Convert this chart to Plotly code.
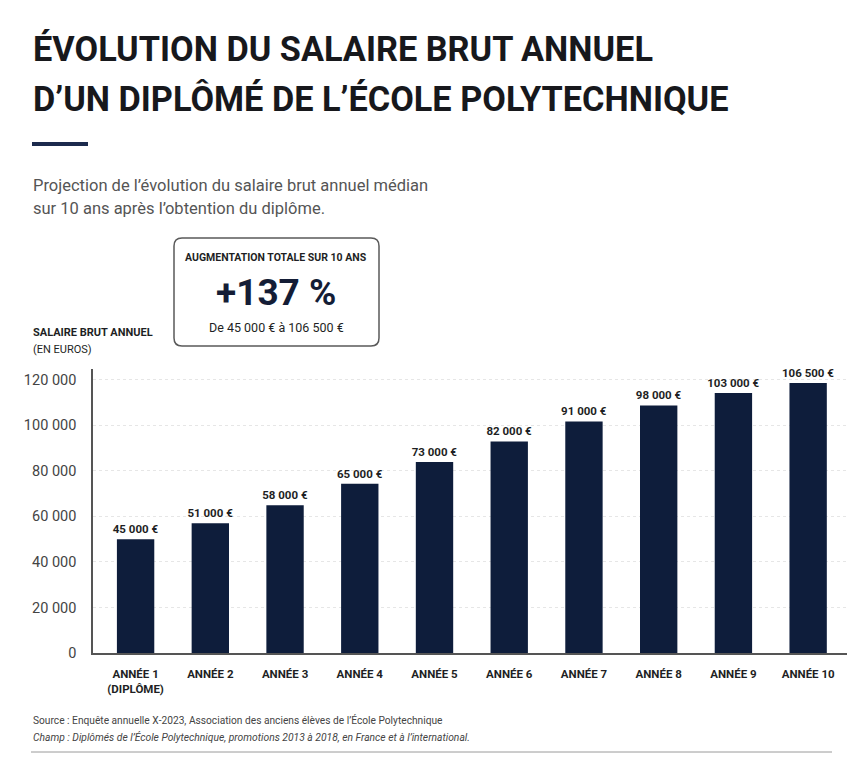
import plotly.graph_objects as go

# ---------------- data ----------------
categories = ["ANNÉE 1<br>(DIPLÔME)", "ANNÉE 2", "ANNÉE 3", "ANNÉE 4", "ANNÉE 5",
              "ANNÉE 6", "ANNÉE 7", "ANNÉE 8", "ANNÉE 9", "ANNÉE 10"]
bar_heights = [49900, 57000, 64900, 74300, 83900, 92900, 101700, 108700, 114200, 118600]
bar_labels = ["45 000 €", "51 000 €", "58 000 €", "65 000 €", "73 000 €",
              "82 000 €", "91 000 €", "98 000 €", "103 000 €", "106 500 €"]
y_tick_vals = [0, 20000, 40000, 60000, 80000, 100000, 120000]
y_tick_text = ["0", "20 000", "40 000", "60 000", "80 000", "100 000", "120 000"]

# ---------------- styling ----------------
W, H = 865, 768
PL, PR, PT, PB = 93, 847, 369, 653
NAVY = "#0e1d3b"
DARK = "#17181c"
FONT = "Roboto, Liberation Sans Narrow, DejaVu Sans Condensed, sans-serif"


def px(x):
    return (x - PL) / (PR - PL)


def py(y):
    return (PB - y) / (PB - PT)


fig = go.Figure()
fig.add_trace(go.Bar(
    x=list(range(len(categories))),
    y=bar_heights,
    text=bar_labels,
    textposition="outside",
    constraintext="none",
    textfont=dict(family=FONT, size=11.5, color="#1e1f24", weight="bold"),
    marker=dict(color=NAVY, line=dict(width=0)),
    cliponaxis=False,
    hoverinfo="skip",
))

annotations = []


def txt(x, y, s, size, color, weight="normal", style="normal", xanchor="left"):
    annotations.append(dict(
        x=px(x), y=py(y), xref="paper", yref="paper", text=s, showarrow=False,
        xanchor=xanchor, yanchor="middle", align=xanchor if xanchor != "center" else "center",
        font=dict(family=FONT, size=size, color=color, weight=weight, style=style),
    ))


# title
txt(31, 49, "ÉVOLUTION DU SALAIRE BRUT ANNUEL", 34.3, DARK, "bold")
txt(31, 99, "D’UN DIPLÔMÉ DE L’ÉCOLE POLYTECHNIQUE", 34.3, DARK, "bold")
# subtitle
txt(31, 185, "Projection de l’évolution du salaire brut annuel médian", 16.5, "#555555")
txt(31, 208, "sur 10 ans après l’obtention du diplôme.", 16.5, "#555555")
# box texts
txt(276, 257, "AUGMENTATION TOTALE SUR 10 ANS", 10.5, "#1e1f24", "bold", xanchor="center")
txt(276, 292, "+137 %", 37, "#141d36", "bold", xanchor="center")
txt(276, 327, "De 45 000 € à 106 500 €", 12.5, "#1e1f24", xanchor="center")
# axis title
txt(31, 332, "SALAIRE BRUT ANNUEL", 11, "#1e1f24", "bold")
txt(31, 349, "(EN EUROS)", 11, "#1e1f24")
# footer
txt(31, 720, "Source : Enquête annuelle X‑2023, Association des anciens élèves de l’École Polytechnique", 10.2, "#444444")
txt(31, 737, "Champ : Diplômés de l’École Polytechnique, promotions 2013 à 2018, en France et à l’international.", 10.3, "#444444", style="italic")

# rounded box path
x0, x1, y0, y1, r = 174, 379, 238, 346, 8
rx = r / (PR - PL)
ry = r / (PB - PT)
X0, X1, Y0, Y1 = px(x0), px(x1), py(y0), py(y1)
path = (f"M {X0+rx},{Y0} L {X1-rx},{Y0} Q {X1},{Y0} {X1},{Y0-ry} "
        f"L {X1},{Y1+ry} Q {X1},{Y1} {X1-rx},{Y1} L {X0+rx},{Y1} "
        f"Q {X0},{Y1} {X0},{Y1+ry} L {X0},{Y0-ry} Q {X0},{Y0} {X0+rx},{Y0} Z")

shapes = [
    dict(type="path", xref="paper", yref="paper", path=path,
         line=dict(color="#5a5a5a", width=1.5), fillcolor="rgba(0,0,0,0)"),
    dict(type="rect", xref="paper", yref="paper", x0=px(32), x1=px(88), y0=py(142), y1=py(146),
         line=dict(width=0), fillcolor="#1c2a4d"),
    dict(type="line", xref="paper", yref="paper", x0=px(31), x1=px(832), y0=py(752), y1=py(752),
         line=dict(color="#9a9a9a", width=1)),
]

fig.update_layout(
    width=W, height=H,
    margin=dict(l=PL, r=W - PR, t=PT, b=H - PB, pad=0),
    paper_bgcolor="white", plot_bgcolor="white",
    showlegend=False,
    bargap=0.5,
    annotations=annotations,
    shapes=shapes,
)
fig.update_xaxes(
    range=[-0.57, 9.52],
    tickvals=list(range(len(categories))), ticktext=categories,
    tickfont=dict(family=FONT, size=11.5, color="#1e1f24", weight="bold"),
    showline=True, linecolor="#555555", linewidth=1.5,
    ticks="outside", ticklen=9, tickcolor="rgba(0,0,0,0)",
    showgrid=False, zeroline=False, fixedrange=True,
)
fig.update_yaxes(
    range=[0, 124700],
    tickvals=y_tick_vals, ticktext=y_tick_text,
    tickfont=dict(family=FONT, size=14.5, color="#444444"),
    showline=True, linecolor="#555555", linewidth=1.5,
    ticks="outside", ticklen=12, tickcolor="rgba(0,0,0,0)",
    showgrid=True, gridcolor="#e6e6e6", griddash="dot", gridwidth=1,
    zeroline=False, fixedrange=True,
)

fig.write_html("out.html")
